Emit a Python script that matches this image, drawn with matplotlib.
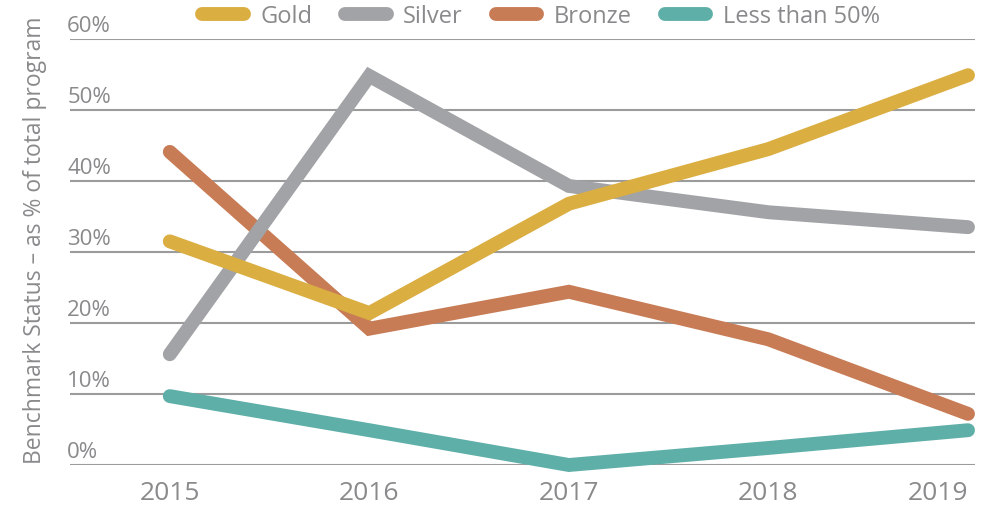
import matplotlib.pyplot as plt
from matplotlib.lines import Line2D
from matplotlib.transforms import ScaledTranslation

years = [2015, 2016, 2017, 2018, 2019]
gold = [31.5, 21.4, 36.8, 44.5, 54.9]
silver = [15.6, 54.8, 39.3, 35.6, 33.5]
bronze = [44.1, 19.2, 24.4, 17.7, 7.2]
less50 = [9.7, 4.9, 0.0, 2.4, 4.9]
yticks = [0, 10, 20, 30, 40, 50, 60]

series = [("Gold", gold, "#DBAE42", 5),
          ("Silver", silver, "#A2A3A6", 4),
          ("Bronze", bronze, "#C87C55", 3),
          ("Less than 50%", less50, "#5FAFA9", 2)]

plt.rcParams['font.family'] = ['Open Sans', 'DejaVu Sans']
txt = "#8a8a8c"

fig = plt.figure(figsize=(9.85, 5.06), dpi=100)
ax = fig.add_axes([70/985, 40/506, 905/985, 426/506])

for name, vals, col, z in series:
    ax.plot(years, vals, color=col, lw=10, solid_capstyle='round',
            solid_joinstyle='miter', zorder=z, clip_on=False)

ax.set_xlim(2014.5, 2019.035)
ax.set_ylim(0, 60)
ax.set_yticks(yticks)
ax.set_yticklabels([f"{v}%" for v in yticks])
ax.grid(axis='y', color='#9b9b9b', lw=1.5, zorder=1)
ax.set_xticks(years)
for s in ax.spines.values():
    s.set_visible(False)
ax.tick_params(axis='y', length=0, pad=2, labelsize=16, labelcolor=txt)
ax.tick_params(axis='x', length=0, pad=11, labelsize=19, labelcolor=txt)
up = ScaledTranslation(0, 3/100, fig.dpi_scale_trans)
for lab in ax.get_yticklabels():
    lab.set_horizontalalignment('left')
    lab.set_verticalalignment('bottom')
    lab.set_transform(lab.get_transform() + up)
ax.get_xticklabels()[-1].set_horizontalalignment('right')

fig.text(35/985, 1 - 240/506, "Benchmark Status \u2013 as % of total program",
         rotation=90, ha='center', va='center', fontsize=16.5, color=txt)

handles = [Line2D([0], [0], color=c, lw=10, solid_capstyle='round')
           for _, _, c, _ in series]
leg = fig.legend(handles, [s[0] for s in series], loc='center',
                 bbox_to_anchor=(541/985, 1 - 17/506), ncol=4, frameon=False,
                 fontsize=17, handlelength=1.75, handletextpad=0.7,
                 columnspacing=1.4, labelcolor=txt)

fig.savefig("out.png", dpi=100)
